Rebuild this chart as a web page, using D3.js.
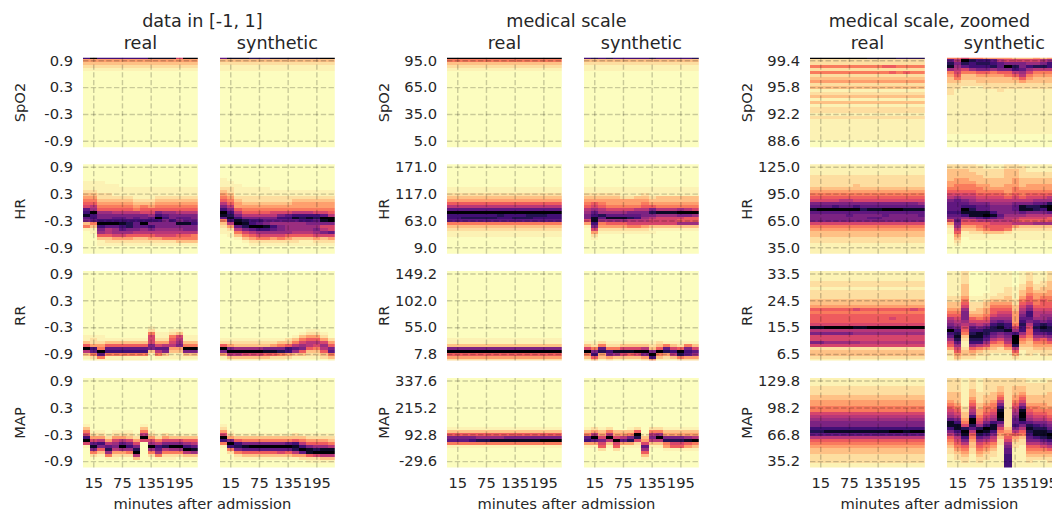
<!DOCTYPE html>
<html>
<head>
<meta charset="utf-8">
<script src="https://cdn.jsdelivr.net/npm/d3@7"></script>
<style>
  html, body { margin: 0; background: #fff; overflow: hidden; }
  text { font-family: "DejaVu Sans", sans-serif; fill: #262626; }
</style>
</head>
<body>
<div id="chart"></div>
<script>
const width = 1052;
const height = 510;

const vitals = ["SpO2", "HR", "RR", "MAP"];
const sources = ["real", "synthetic"];
const groupTitles = ["data in [-1, 1]", "medical scale", "medical scale, zoomed"];
const minuteTicks = ["15", "75", "135", "195"];
const xAxisLabel = "minutes after admission";

const unitTicks = ["0.9", "0.3", "-0.3", "-0.9"];
const medicalTicks = [
  ["95.0", "65.0", "35.0", "5.0"],
  ["171.0", "117.0", "63.0", "9.0"],
  ["149.2", "102.0", "55.0", "7.8"],
  ["337.6", "215.2", "92.8", "-29.6"]
];
const zoomedTicks = [
  ["99.4", "95.8", "92.2", "88.6"],
  ["125.0", "95.0", "65.0", "35.0"],
  ["33.5", "24.5", "15.5", "6.5"],
  ["129.8", "98.2", "66.8", "35.2"]
];

// one string per row (top row first), one hex digit per 15 minute bin, 0 = empty, f = densest
const Z = "0000000000000000";
const unitRealSpO2 = ["cfccccccceeee7ff", "4444444444444444", "3333333333333333", "2222222222222222", "1111111111111111",
  Z, Z, Z, Z, Z, Z, Z, Z, Z, Z, Z, Z, Z, Z, Z, Z, Z, Z, Z, Z, Z, Z, Z, Z, Z, Z];
const unitSynSpO2 = ["beeedddeeeeeeeff", "3333333333333333", "2222222222222222", "1111111111111111", "1111111111111111",
  Z, Z, Z, Z, Z, Z, Z, Z, Z, Z, Z, Z, Z, Z, Z, Z, Z, Z, Z, Z, Z, Z, Z, Z, Z, Z];
const unitRealHR = [Z, Z, Z, Z, Z, Z, "1110000000000000", "1111100000000000", "1111111111111111", "2211111111111111",
  "3322111111111111", "4422222111222222", "5533333222333333", "6644444333444444", "7855555454555555", "b966666566666666",
  "cf99888877a99888", "ecaaaaaaa9cbaaaa", "bcaabbababfcabba", "abcccccccccacabb", "35fffedbfaaaaeec", "53cbbcdbbcaaaaaa",
  "11a89baa9a9999aa", "0198999888888888", "0066776666777665", "0033444334455555", "0012222222222333", "0011111111111111", Z, Z, Z];
const unitSynHR = [Z, Z, Z, Z, Z, "1000000000000000", "1100000000000000", "1110000000000000", "2211111000000000", "3211111111111111",
  "4311111111111111", "5422222222222222", "6532222222333333", "8643333333444444", "a844444444444444", "ca65555555555555",
  "fc86666777888776", "eda88888abccccb8", "becaaaaaccededff", "5cedccbbbbbccbef", "38fecba99999aaaa", "24bdffeca9999977",
  "128abccba9999a87", "11578999998889ab", "0135677776666777", "0013455454333434", "0001222222211222", "0000111111111111", Z, Z, Z];
const unitRealRR = [Z, Z, Z, Z, Z, Z, Z, Z, Z, Z, Z, Z, Z, Z, Z, Z, Z, Z, Z, "0000000001000000", "0000000002001100", "0000000005112300",
  "1110000007115711", "1211111117226811", "3223333337447933", "644666666a788a55", "fc5bbbbbbabb44ff", "8bfcccccc38a33aa",
  "35b5555551531133", "1251111110111111", "0111111110000000"];
const unitSynRR = [Z, Z, Z, Z, Z, Z, Z, Z, Z, Z, Z, Z, Z, Z, Z, Z, Z, Z, Z, Z, "0000000000001100", "0000000000012210", "0000000000134420",
  "1111111112356642", "2222222233578874", "6433333456898796", "fa9999aaacba658a", "afffffeedc96336b", "4887776654332235",
  "1333333222111123", "0111111110000001"];
const unitRealMAP = [Z, Z, Z, Z, Z, Z, Z, Z, Z, Z, Z, Z, Z, Z, Z, Z, "1000000010000000", "3000000030000000", "5110111051000000",
  "7221222182121111", "c4424432f4243333", "f784787477577766", "7bc89ba7098aaa98", "1eabafca0fcdffcb", "0a6d899d09b899fe",
  "0539445f05955589", "0215222802522233", "0001100300111011", Z, Z, Z];
const unitSynMAP = [Z, Z, Z, Z, Z, Z, Z, Z, Z, Z, Z, Z, Z, Z, Z, Z, "1000000000000000", "2000000000000000", "4100000000000000",
  "7211111111211111", "f433333333332222", "ca65555555654443", "5fcaaaaaabc86665", "1cdeffffffeca998", "05abbbbbbbdfedee",
  "02566666768befff", "0023333333446788", "0011111111122233", "0000000000001111", Z, Z];

const medRealSpO2 = ["ffffffffffffffff", "5555555555555555", "3333333333333333", "2222222222222222", "1111111111111111",
  Z, Z, Z, Z, Z, Z, Z, Z, Z, Z, Z, Z, Z, Z, Z, Z, Z, Z, Z, Z, Z, Z, Z, Z, Z, Z];
const medSynSpO2 = ["cdcdcccccdcccccd", "3333333333333333", "2222222222222222", "1111111111111111", "1111111111111111",
  Z, Z, Z, Z, Z, Z, Z, Z, Z, Z, Z, Z, Z, Z, Z, Z, Z, Z, Z, Z, Z, Z, Z, Z, Z, Z];
const medRealHR = [Z, Z, Z, Z, Z, Z, Z, Z, "1111111111111111", "1111111111111111", "2222222222222222", "3333333333333333",
  "4444444444444444", "6666666666666666", "8888888888888888", "bbbbbbbbbbbbbbbb", "ffffffffffffffff", "cccccccdcccdddcc",
  "ccdddddccdddcccc", "bbbbbbbbbbbbbbbb", "5555555555555555", "3333333333333333", "2222222222222222", "1111111111111111",
  "1111111111111111", Z, Z, Z, Z, Z, Z];
const medSynHR = [Z, Z, Z, Z, Z, Z, Z, Z, "1111111111111111", "1111111111111111", "2222211121111111", "3333322332333333",
  "4444444443333333", "5654444454444444", "6765555566555555", "898777788a888987", "9b9999aaadeeefff", "acdbbbbbaa999aa9",
  "aebeeedc98777766", "7e99998887777666", "4c56667777777999", "1a44445543333333", "0722222221111111", "0411111111000000",
  "0200000000000000", "0100000000000000", Z, Z, Z, Z, Z];
const medRealRR = [Z, Z, Z, Z, Z, Z, Z, Z, Z, Z, Z, Z, Z, Z, Z, Z, Z, Z, Z, Z, Z, Z, Z, "1111111111111111", "1111111111111111",
  "3333333333333333", "aaaaaaaaaaaaaaaa", "ffffffffffffffff", "6666666666666666", "4444444444444444", "2222222222222222"];
const medSynRR = [Z, Z, Z, Z, Z, Z, Z, Z, Z, Z, Z, Z, Z, Z, Z, Z, Z, Z, Z, Z, Z, Z, Z, Z, "1121111111211111", "3252233332353253",
  "75b55777836b76a7", "fadceeeffafdcfcb", "5c4a9767af548db9", "363433334c323544", "1312111124111222"];
const medRealMAP = [Z, Z, Z, Z, Z, Z, Z, Z, Z, Z, Z, Z, Z, Z, Z, Z, Z, "1111111111111111", "3333333333333333", "6666666666666666",
  "aaaa9999aaaaaaaa", "bbbcddeeeeeeefff", "5555555555555555", "1111111111111111", Z, Z, Z, Z, Z, Z, Z];
const medSynMAP = [Z, Z, Z, Z, Z, Z, Z, Z, Z, Z, Z, Z, Z, Z, Z, Z, Z, "1212001202211111", "3435333605533333", "5848445f18944444",
  "bf7f78ad3afaaa98", "cba8fbd7488dddef", "4473744273357765", "11616111b1146643", "0020200090011111", "0000000060000000",
  "0000000030000000", "0000000010000000", Z, Z, Z];

const zoomRealSpO2 = ["ffffffffeeeedddd", "2222222222222222", "2222222222222222", "5555555555665555", "2222222222222222",
  "5555555555565655", "2222222222222222", "3333333333333333", "4444444444444444", "2222222222222222", "3333333333333333",
  "1111111111111111", "2222222222222222", "3333333333333333", "1111111111111111", "3333333333333333", "1111111111111111",
  "2222222222222222", "2222222222222222", "1111111111111111", "2222222222222222", "1111111111111111", "1111111111111111",
  "1111111111111111", "1111111111111111", "1111111111111111", "1111111111111111", "1111111111111111", Z, Z, Z];
const zoomSynSpO2 = ["5575544443334344", "b8fdccb877777899", "dadcddcbaaa99acc", "e9bcccdbfdacddcb", "9879aa9aacb98888",
  "5755665668975555", "4633444456854444", "3533333334643333", "3322333333433333", "2222222222222222", "2211122222222222",
  "2111111211111111", "2111111111111111", "1111111111111111", "1111111111111111", "1111111111111111", "1111111111111111",
  "1111111111111111", "1111111111111111", "1111111111111111", "1111111111111111", "1111111111111111", "1111111111111111",
  "1111111111111111", "1111111111111111", "1111111111111111", Z, Z, Z, Z, Z];
const zoomRealHR = ["1111111111111111", "1111111111111111", "1111111111111111", "1111111111111111", "2222222222222222",
  "2222222222222222", "2222222222222222", "2222223222222222", "3333333333333333", "4444444444444444", "5555555555555555",
  "6666666666666666", "7777887777777777", "aaaaaaaaaaaaaaa9", "bbbcbbcbbbbbbbbb", "effffffdeefffeee", "bbbbbbbbbbbbbbbb",
  "aaaaabaaaabaaaab", "aaaaaaaabbaaaaaa", "aaaaaaaaaaaaaaaa", "7777777777777777", "5555555555555555", "4444444444444444",
  "3333333333333333", "3333333333333333", "2222222222222222", "2222222222222222", "1111111111111111", "1111111111111111",
  "1111111111111111", "1111111111111111"];
const zoomSynHR = ["2222111122111111", "2222211122211111", "3332222233211111", "3333222233222222", "3333322233222222",
  "3443333334333333", "4444333334333333", "4555443344344444", "5555544445444444", "6666555545555555", "7777666656566666",
  "8988777767677787", "aba9888888889998", "bbbaaa999aaabbdc", "bbccbbaaabeddeff", "bbfdbbaaabeedcfe", "cceeeecaaabaaaba",
  "bbceefeb99988888", "aa9abcba88777766", "7b77888887666666", "4a66667778889999", "2944566664333333", "1733456652222222",
  "1612233321111111", "0411111111111111", "0301111111111111", "0200000000000000", "0100000000000000", Z, Z, Z];
const zoomRealRR = ["1111111111111111", "1111111111111111", "1111111111111111", "1111111111111111", "2222222222222222",
  "2222222222222222", "1111111111111111", "2222222222222222", "2222222222222222", "2222222222222222", "3333333333333333",
  "3333333333333333", "4444444444444444", "6666667666666676", "5555555555555555", "6666666666666666", "6666666666676666",
  "6666666666666666", "7777777777777777", "eeffffeeffffffff", "8888888888888888", "aaaaaa9999999999", "7777777777777777",
  "7777777777777777", "aa99999888888888", "7777777777777777", "2222222222222222", "3333333333333333", "3333333333333333",
  "2222222222222222", "1111111111111111"];
const zoomRealMAP = ["1111111111111111", "1111111111111111", "1111111111111111", "2222222222222222", "2222222222222222",
  "2222222222222222", "3333333333333333", "3333333333333333", "4444444444444444", "4444444444444444", "5555555555555555",
  "5555555555555555", "7777777777777777", "8888888888888888", "9999999999999999", "aaaaaaaaaaaaaaaa", "aaaaaaaaaaaaaaaa",
  "cccccccccccccccc", "ddeeeeeeeeeffeff", "bbbbbbbbbbbbbbbb", "8888888888888888", "6666666666666666", "5555555555555555",
  "4444444444444444", "3333333333333333", "3333333333333333", "2222222222222222", "2222222222222222", "2222222222222222",
  "1111111111111111", "1111111111111111"];

// the two most erratic synthetic panels were read column by column, one string per 15 minute bin
const zoomSynRRCols = [
  "111111111223345689abfcb97642211", "1111111112233456789acdedb976432", "22222333345679aaa98765321123321",
  "1000000001122234679bcdedc964321", "1000000001122334578aceedc853211", "1000000011233445679bddcb9742211",
  "11111111123456679acddba86432111", "11111111223456789bdeda975422111", "11111122233456789acceba98642111",
  "000000111122334444579cfffd86421", "111112233456789abcdcc9754321111", "1222334456679accba8766543322211",
  "11111223445567889bcdcb975432111", "11112233456667899adedb965432211", "2222333445566789abcddca86432211",
  "2222333445566789abcddca86432211"
];
const zoomSynMAPCols = [
  "22222333456789beeca865432211111", "22222333345678aceeca87654322111", "11111111112233457dfeca865432211",
  "2222333456789cffdb8654332211111", "11111222233445679dfdb9765432211", "222222333455678acfeca8654322111",
  "222223334556789ceeca87543221111", "222334568aceffeb975432211111111", "22222222222222222345679abbccccc",
  "2223334456789abbca8643221111111", "2223345679beffeca86532211111111", "112222333456789bdedcba865432211",
  "112222333455678acdeeca865432111", "112222333445678abdeedb975432111", "1222233333455679abdfeca86432211",
  "1222233334456789acefeb864322111"
];

const flip = cols => d3.transpose(cols.map(c => [...c])).map(r => r.join(""));

const panels = [
  [[unitRealSpO2, unitSynSpO2], [unitRealHR, unitSynHR], [unitRealRR, unitSynRR], [unitRealMAP, unitSynMAP]],
  [[medRealSpO2, medSynSpO2], [medRealHR, medSynHR], [medRealRR, medSynRR], [medRealMAP, medSynMAP]],
  [[zoomRealSpO2, zoomSynSpO2], [zoomRealHR, zoomSynHR], [zoomRealRR, flip(zoomSynRRCols)], [zoomRealMAP, flip(zoomSynMAPCols)]]
];
const groupTicks = [vitals.map(() => unitTicks), medicalTicks, zoomedTicks];

const panelW = 114.8;
const panelH = 89.5;
const groupLeft = [83, 447, 810];
const sourceStep = 137;
const rowTop = [57.8, 164.3, 271, 378.1];

const cols = d3.range(16);
const rows = d3.range(31);
const tickRows = [1, 10, 19, 28];
const tickCols = [1, 5, 9, 13];

// the lowest digits are barely tinted in the picture, above that the ramp is even
const density = d3.scaleLinear().domain([0, 1, 2, 3, 15]).range([0, 0.025, 0.07, 0.13, 1]);
const color = v => d3.interpolateMagma(1 - density(v));

const svg = d3.select("#chart").append("svg")
  .attr("width", width).attr("height", height)
  .style("display", "block");

const x = d3.scaleBand().domain(cols).range([0, panelW]);
// first and last row are cut in half by the panel edge
const rowH = panelH / 30;
const y = d3.scaleBand().domain(rows).range([-rowH / 2, panelH + rowH / 2]);

panels.forEach((group, g) => {
  const center = groupLeft[g] + (panelW + sourceStep) / 2 - 6.5;
  svg.append("text").attr("x", center).attr("y", 26.5)
    .attr("text-anchor", "middle").style("font-size", "17.6px").text(groupTitles[g]);
  svg.append("text").attr("x", center).attr("y", 508.5)
    .attr("text-anchor", "middle").style("font-size", "14.7px").text(xAxisLabel);

  sources.forEach((name, s) => {
    svg.append("text").attr("x", groupLeft[g] + s * sourceStep + panelW / 2).attr("y", 49)
      .attr("text-anchor", "middle").style("font-size", "17.6px").text(name);
  });

  group.forEach((pair, r) => {
    svg.append("text")
      .attr("transform", `translate(${groupLeft[g] - 58.5},${rowTop[r] + panelH / 2}) rotate(-90)`)
      .attr("text-anchor", "middle").style("font-size", "14.7px").text(vitals[r]);

    pair.forEach((grid, s) => {
      const panel = svg.append("g")
        .attr("transform", `translate(${groupLeft[g] + s * sourceStep},${rowTop[r]})`);
      const clipId = `clip-${g}-${r}-${s}`;
      panel.append("clipPath").attr("id", clipId)
        .append("rect").attr("width", panelW).attr("height", panelH);

      const cells = rows.flatMap(k => cols.map(c => ({ k, c, v: parseInt(grid[k][c], 16) })));
      panel.append("g").attr("clip-path", `url(#${clipId})`)
        .selectAll("rect").data(cells).join("rect")
        .attr("x", d => x(d.c)).attr("y", d => y(d.k))
        .attr("width", x.bandwidth()).attr("height", y.bandwidth())
        .attr("shape-rendering", "crispEdges")
        .attr("fill", d => color(d.v));

      const yAxis = d3.axisLeft(y).tickValues(tickRows)
        .tickFormat((d, i) => (s === 0 ? groupTicks[g][r][i] : ""))
        .tickSize(-panelW).tickPadding(10);
      const xAxis = d3.axisBottom(x).tickValues(tickCols)
        .tickFormat((d, i) => (r === 3 ? minuteTicks[i] : ""))
        .tickSize(-panelH).tickPadding(10);

      const ya = panel.append("g").call(yAxis);
      const xa = panel.append("g").attr("transform", `translate(0,${panelH})`).call(xAxis);
      [ya, xa].forEach(a => {
        a.select(".domain").remove();
        a.attr("font-family", null).attr("font-size", null);
        a.selectAll("line")
          .attr("stroke", "#000").attr("stroke-opacity", 0.2)
          .attr("stroke-width", 1.45).attr("stroke-dasharray", "5.4,2.35");
        a.selectAll("text").style("font-size", "14.7px");
      });
    });
  });
});
</script>
</body>
</html>
